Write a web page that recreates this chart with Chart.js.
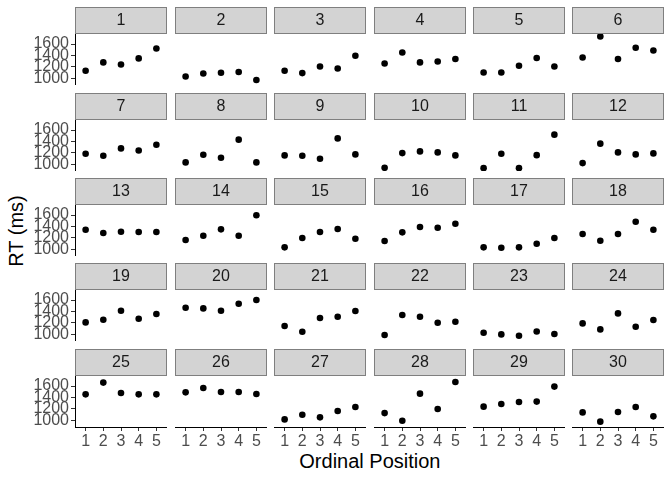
<!DOCTYPE html>
<html>
<head>
<meta charset="utf-8">
<script src="https://cdn.jsdelivr.net/npm/chart.js@4"></script>
<style>
  html, body { margin:0; padding:0; background:#fff; }
  #wrap { position:relative; width:672px; height:480px; overflow:hidden; font-family:"Liberation Sans", Arial, sans-serif; }
  canvas { position:absolute; }
  .ttl { position:absolute; font-size:20px; color:#000; white-space:nowrap; line-height:1; }
</style>
</head>
<body>
<div id="wrap">
  <div class="ttl" id="ytitle">RT (ms)</div>
  <div class="ttl" id="xtitle">Ordinal Position</div>
</div>
<script>
// ---- data ----
const panels = Array.from({length:30}, (_, i) => String(i + 1));
const positions = [1, 2, 3, 4, 5];
const xTickLabels = [1, 2, 3, 4, 5];
const yTickLabels = [1000, 1200, 1400, 1600];
const rt = [
  [1133, 1279, 1244, 1349, 1523],
  [1034, 1086, 1099, 1111, 971],
  [1133, 1093, 1209, 1174, 1396],
  [1261, 1453, 1279, 1296, 1338],
  [1104, 1104, 1221, 1355, 1209],
  [1366, 1733, 1338, 1536, 1488],
  [1187, 1152, 1279, 1244, 1344],
  [1035, 1169, 1117, 1432, 1035],
  [1157, 1152, 1099, 1454, 1175],
  [942, 1197, 1227, 1210, 1157],
  [935, 1187, 935, 1162, 1519],
  [1023, 1362, 1210, 1175, 1192],
  [1343, 1286, 1308, 1303, 1303],
  [1163, 1238, 1350, 1238, 1595],
  [1036, 1198, 1303, 1355, 1186],
  [1146, 1298, 1390, 1378, 1448],
  [1036, 1029, 1036, 1099, 1198],
  [1268, 1151, 1268, 1483, 1343],
  [1210, 1257, 1414, 1274, 1356],
  [1466, 1454, 1414, 1536, 1601],
  [1147, 1047, 1286, 1309, 1409],
  [989, 1339, 1309, 1204, 1222],
  [1029, 1000, 977, 1052, 1007],
  [1192, 1087, 1367, 1134, 1251],
  [1455, 1660, 1478, 1455, 1455],
  [1490, 1565, 1495, 1495, 1460],
  [1018, 1100, 1053, 1163, 1233],
  [1128, 995, 1467, 1198, 1670],
  [1240, 1286, 1321, 1328, 1590],
  [1140, 978, 1146, 1233, 1071]
];

// ---- layout ----
const NCOL = 6, NROW = 5;
const FONT = '"Liberation Sans", Arial, sans-serif';
const PANEL_W = 92, PANEL_H = 51, STRIP_H = 27;
const colLeft = c => Math.round(75.3 + 99.4 * c);
const rowTop = r => Math.round(7.3 + 85.35 * r);
const YAXIS_W = 75, XAXIS_H = 30;
const YMIN = 885, YMAX = 1775, XMIN = 0.4, XMAX = 5.6;

const stripPlugin = {
  id: 'strip',
  beforeDraw(chart) {
    const tb = chart.titleBlock, a = chart.chartArea, ctx = chart.ctx;
    if (!tb) return;
    ctx.save();
    ctx.fillStyle = '#D3D3D3';
    ctx.fillRect(a.left, tb.top, a.right - a.left, tb.bottom - tb.top);
    ctx.strokeStyle = '#7F7F7F';
    ctx.lineWidth = 1;
    ctx.strokeRect(a.left + 0.5, tb.top + 0.5, a.right - a.left - 1, tb.bottom - tb.top - 1);
    ctx.restore();
  }
};

function zeroPad(s) {
  s.paddingTop = 0; s.paddingBottom = 0; s.paddingLeft = 0; s.paddingRight = 0;
}

const wrap = document.getElementById('wrap');
panels.forEach((label, i) => {
  const c = i % NCOL, r = Math.floor(i / NCOL);
  const firstCol = c === 0, lastRow = r === NROW - 1;
  const left = firstCol ? colLeft(0) - YAXIS_W : colLeft(c);
  const width = PANEL_W + (firstCol ? YAXIS_W : 0);
  const height = STRIP_H + PANEL_H + (lastRow ? XAXIS_H : 0);
  const cv = document.createElement('canvas');
  cv.style.left = left + 'px';
  cv.style.top = rowTop(r) + 'px';
  cv.style.width = width + 'px';
  cv.style.height = height + 'px';
  cv.width = width; cv.height = height;
  wrap.appendChild(cv);

  new Chart(cv, {
    type: 'scatter',
    data: {
      datasets: [{
        data: positions.map((p, k) => ({x: p, y: rt[i][k]})),
        backgroundColor: '#000',
        borderColor: '#000',
        pointRadius: 3.3,
        pointHoverRadius: 3.3,
        borderWidth: 0
      }]
    },
    options: {
      responsive: false,
      animation: false,
      devicePixelRatio: 1,
      layout: { padding: 0, autoPadding: false },
      events: [],
      plugins: {
        legend: { display: false },
        tooltip: { enabled: false },
        title: {
          display: true,
          text: label,
          fullSize: false,
          color: '#1A1A1A',
          font: { family: FONT, size: 16, weight: 'normal', lineHeight: 1.2 },
          padding: { top: 4, bottom: 3.8 }
        }
      },
      scales: {
        x: {
          type: 'linear',
          min: XMIN, max: XMAX,
          display: lastRow,
          afterBuildTicks: s => { s.ticks = xTickLabels.map(v => ({value: v})); },
          afterFit: s => { s.height = lastRow ? XAXIS_H : 0; zeroPad(s); },
          ticks: { font: { family: FONT, size: 16 }, color: '#4D4D4D', padding: 1, autoSkip: false, maxRotation: 0,
                   callback: v => String(v) },
          grid: { drawOnChartArea: false, drawTicks: true, tickLength: 4, tickColor: '#333333', tickWidth: 1 },
          border: { display: true, color: '#000', width: 1 }
        },
        y: {
          type: 'linear',
          min: YMIN, max: YMAX,
          display: firstCol,
          afterBuildTicks: s => { s.ticks = yTickLabels.map(v => ({value: v})); },
          afterFit: s => { s.width = firstCol ? YAXIS_W : 0; zeroPad(s); },
          ticks: { font: { family: FONT, size: 16 }, color: '#4D4D4D', padding: 2, autoSkip: false,
                   callback: v => String(v) },
          grid: { drawOnChartArea: false, drawTicks: true, tickLength: 4, tickColor: '#333333', tickWidth: 1 },
          border: { display: true, color: '#000', width: 1 }
        }
      }
    },
    plugins: [stripPlugin]
  });
});

// axis titles
const yt = document.getElementById('ytitle');
yt.style.left = (15 - yt.offsetWidth / 2) + 'px';
yt.style.top = (231 - yt.offsetHeight / 2) + 'px';
yt.style.transform = 'rotate(-90deg)';
const xt = document.getElementById('xtitle');
xt.style.left = (369.8 - xt.offsetWidth / 2) + 'px';
xt.style.top = (461 - xt.offsetHeight / 2) + 'px';
</script>
</body>
</html>
